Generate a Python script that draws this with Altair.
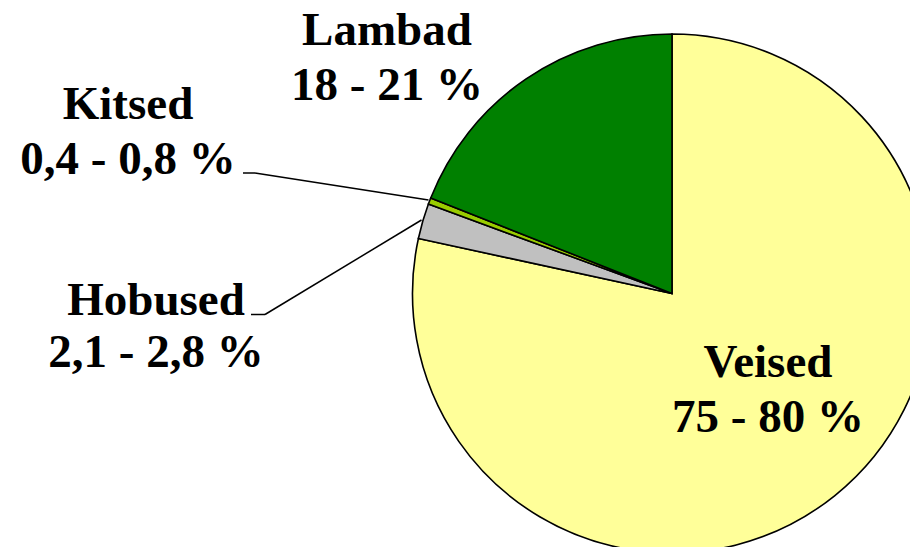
import altair as alt
import pandas as pd

# Data
names = ["Veised", "Hobused", "Kitsed", "Lambad"]
shares = [78.4, 2.2, 0.4, 19.0]
ranges = ["75 - 80 %", "2,1 - 2,8 %", "0,4 - 0,8 %", "18 - 21 %"]
colors = ["#FFFF99", "#C0C0C0", "#99CC00", "#008000"]

df = pd.DataFrame({
    "name": names,
    "share": shares,
    "range": ranges,
    "idx": list(range(len(names))),
})

OX, OY = 8, 8  # page margin
CX, CY, R = 672 - OX, 293.5 - OY, 259.5

base = alt.Chart(df)

pie = base.mark_arc(radius=R, stroke="black", strokeWidth=1.6).encode(
    theta=alt.Theta("share:Q", stack=True),
    order=alt.Order("idx:Q"),
    color=alt.Color("name:N", scale=alt.Scale(domain=names, range=colors), legend=None),
    x=alt.value(CX),
    y=alt.value(CY),
)

# label placement (center x, baseline of line 1, baseline of line 2) in page px
label_pos = {
    "Lambad": (387, 45, 100),
    "Kitsed": (128, 118.5, 173.5),
    "Hobused": (156, 314.5, 367),
    "Veised": (768, 377, 432),
}

layers = [pie]
for nm, (lx, y1, y2) in label_pos.items():
    sub = base.transform_filter(alt.datum.name == nm)
    txt_style = dict(font="Liberation Serif", fontSize=47, fontWeight="bold",
                     align="center", baseline="alphabetic", color="black")
    layers.append(sub.mark_text(**txt_style).encode(
        text="name:N", x=alt.value(lx - OX), y=alt.value(y1 - OY)))
    layers.append(sub.mark_text(**txt_style).encode(
        text="range:N", x=alt.value(lx - OX), y=alt.value(y2 - OY)))

# leader lines (page px)
segments = [
    (243, 173, 255, 173),
    (255, 173, 428.5, 200),
    (251, 314.5, 265, 314.5),
    (265, 314.5, 421.5, 220),
]
one = alt.Chart(pd.DataFrame({"k": [0]}))
for (x1, y1, x2, y2) in segments:
    layers.append(one.mark_rule(color="black", strokeWidth=1.5).encode(
        x=alt.value(x1 - OX), y=alt.value(y1 - OY),
        x2=alt.value(x2 - OX), y2=alt.value(y2 - OY)))

chart = alt.layer(*layers).properties(
    width=902, height=539,
    autosize=alt.AutoSizeParams(type="none"),
    padding=0,
    background="white",
).configure_view(stroke=None)

chart.save("out.html", embed_options={"renderer": "svg", "actions": False})
